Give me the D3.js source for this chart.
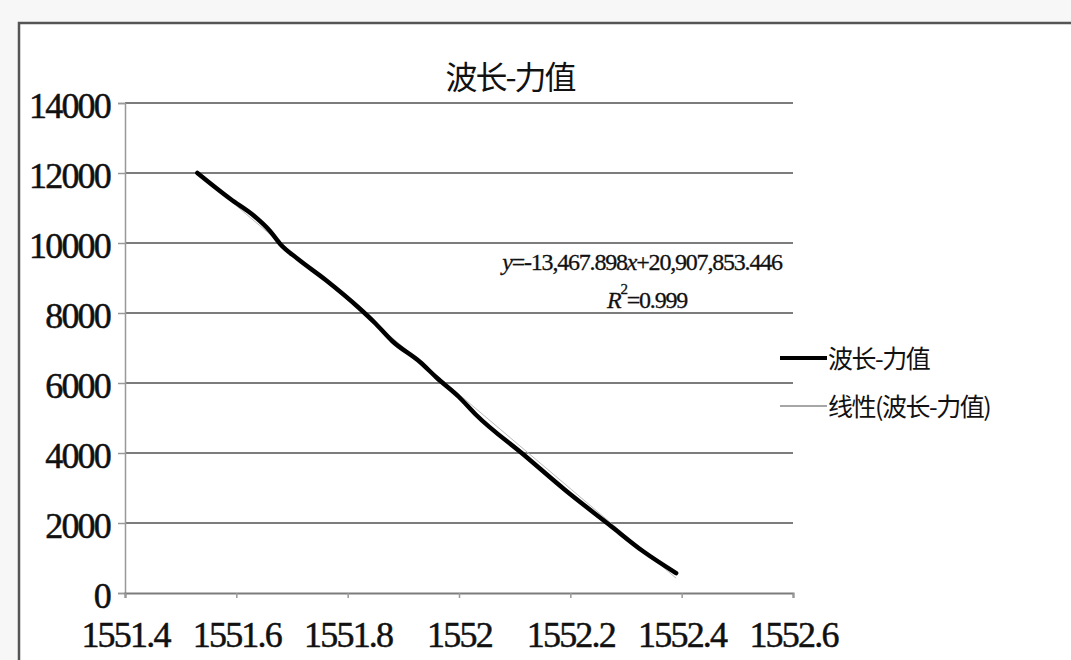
<!DOCTYPE html>
<html>
<head>
<meta charset="utf-8">
<title>波长-力值</title>
<script src="https://cdn.jsdelivr.net/npm/d3@7"></script>
<style>
    body { margin: 0; background: #f7f7f7; }
    svg { display: block; }
</style>
</head>
<body>
<svg id="chart" width="1071" height="660"></svg>
<script>
// 数据：波长(nm) 与 力值(N)
var wavelength = [1551.53, 1551.59, 1551.63, 1551.66, 1551.68, 1551.71, 1551.76, 1551.82, 1551.85, 1551.88,
                  1551.93, 1551.96, 1552.00, 1552.03, 1552.12, 1552.19, 1552.27, 1552.33, 1552.39];
var force = [12000, 11250, 10800, 10350, 9950, 9550, 8950, 8150, 7700, 7200,
             6600, 6150, 5600, 5100, 3900, 2950, 1950, 1200, 570];
var xTicks = [1551.4, 1551.6, 1551.8, 1552, 1552.2, 1552.4, 1552.6];
var xTickLabels = ["1551.4", "1551.6", "1551.8", "1552", "1552.2", "1552.4", "1552.6"];
var yTicks = [0, 2000, 4000, 6000, 8000, 10000, 12000, 14000];
var slope = -13467.898, intercept = 20907853.446;
var seriesNames = ["波长-力值", "线性(波长-力值)"];

var svg = d3.select("#chart");
var serif = "'Liberation Serif', 'DejaVu Serif', serif";
var cjk = "'Noto Sans CJK SC', 'Liberation Serif', serif";

// 外框
svg.append("rect")
    .attr("x", 19).attr("y", 23)
    .attr("width", 1070).attr("height", 660)
    .attr("fill", "#fff")
    .attr("stroke", "#555").attr("stroke-width", 2.5);

var x = d3.scaleLinear().domain([1551.4, 1552.6]).range([125, 793]);
var y = d3.scaleLinear().domain([0, 14000]).range([593, 103]);

// 网格线
svg.append("g").selectAll("line")
    .data(yTicks.filter(function(d) { return d > 0; }))
    .enter().append("line")
    .attr("x1", x(1551.4)).attr("x2", x(1552.6))
    .attr("y1", function(d) { return y(d); })
    .attr("y2", function(d) { return y(d); })
    .attr("stroke", "#7c7c7c").attr("stroke-width", 2);

// 刻度文字样式
function tickText(sel) {
    sel.style("font-family", serif)
        .style("font-size", "36px")
        .style("letter-spacing", "-1.8px")
        .attr("fill", "#111")
        .attr("stroke", "#111").attr("stroke-width", 0.5);
}

// y 轴
var yAxis = svg.append("g")
    .attr("transform", "translate(" + x(1551.4) + ",0)")
    .call(d3.axisLeft(y).tickValues(yTicks).tickSize(7).tickFormat(d3.format("d")));
yAxis.select(".domain").attr("stroke", "#999").attr("stroke-width", 1.5);
yAxis.selectAll(".tick line").attr("stroke", "#999").attr("stroke-width", 1.5);
yAxis.selectAll(".tick text").attr("x", -15).attr("dy", 14).call(tickText);

// x 轴
var xAxis = svg.append("g")
    .attr("transform", "translate(0," + y(0) + ")")
    .call(d3.axisBottom(x).tickValues(xTicks).tickSize(5)
        .tickFormat(function(d, i) { return xTickLabels[i]; }));
xAxis.select(".domain").attr("stroke", "#7c7c7c").attr("stroke-width", 2);
xAxis.selectAll(".tick line").attr("stroke", "#999").attr("stroke-width", 1.5);
xAxis.selectAll(".tick text").attr("y", 54).attr("dy", 0).call(tickText);

// 线性趋势线（被数据线覆盖）
var xr = d3.extent(wavelength);
svg.append("line")
    .attr("x1", x(xr[0])).attr("y1", y(slope * xr[0] + intercept))
    .attr("x2", x(xr[1])).attr("y2", y(slope * xr[1] + intercept))
    .attr("stroke", "#bbb").attr("stroke-width", 1);

// 数据线
var line = d3.line()
    .x(function(d, i) { return x(wavelength[i]); })
    .y(function(d) { return y(d); })
    .curve(d3.curveMonotoneX);
svg.append("path")
    .datum(force)
    .attr("d", line)
    .attr("fill", "none")
    .attr("stroke", "#000").attr("stroke-width", 4.5)
    .attr("stroke-linecap", "round");

// 标题
svg.append("text")
    .attr("x", 510).attr("y", 89)
    .attr("text-anchor", "middle")
    .style("font-family", cjk).style("font-size", "32px")
    .style("letter-spacing", "-2px").attr("fill", "#111")
    .text(seriesNames[0]);

// 回归方程
var eq = svg.append("text")
    .attr("x", 642).attr("y", 270)
    .attr("text-anchor", "middle")
    .style("font-family", serif).style("font-size", "24px")
    .style("letter-spacing", "-1.2px").attr("fill", "#111")
    .attr("stroke", "#111").attr("stroke-width", 0.3);
eq.append("tspan").style("font-style", "italic").text("y");
eq.append("tspan").text("=-13,467.898");
eq.append("tspan").style("font-style", "italic").text("x");
eq.append("tspan").text("+20,907,853.446");
var r2 = svg.append("text")
    .attr("x", 647).attr("y", 308)
    .attr("text-anchor", "middle")
    .style("font-family", serif).style("font-size", "24px")
    .style("letter-spacing", "-1.2px").attr("fill", "#111")
    .attr("stroke", "#111").attr("stroke-width", 0.3);
r2.append("tspan").style("font-style", "italic").text("R");
r2.append("tspan").attr("dy", -14).style("font-size", "15px").text("2");
r2.append("tspan").attr("dy", 14).text("=0.999");

// 图例
var legend = svg.append("g").attr("transform", "translate(780,0)");
var legY = [358, 406];
legend.selectAll("line")
    .data(seriesNames)
    .enter().append("line")
    .attr("x1", 0).attr("x2", 47)
    .attr("y1", function(d, i) { return legY[i]; })
    .attr("y2", function(d, i) { return legY[i]; })
    .attr("stroke", function(d, i) { return i === 0 ? "#000" : "#888"; })
    .attr("stroke-width", function(d, i) { return i === 0 ? 4 : 1.5; });
legend.selectAll("text")
    .data(seriesNames)
    .enter().append("text")
    .attr("x", 48)
    .attr("y", function(d, i) { return legY[i] + 10; })
    .style("font-family", cjk).style("font-size", "25px")
    .style("letter-spacing", "-1.5px").attr("fill", "#111")
    .text(function(d) { return d; });
</script>
</body>
</html>
